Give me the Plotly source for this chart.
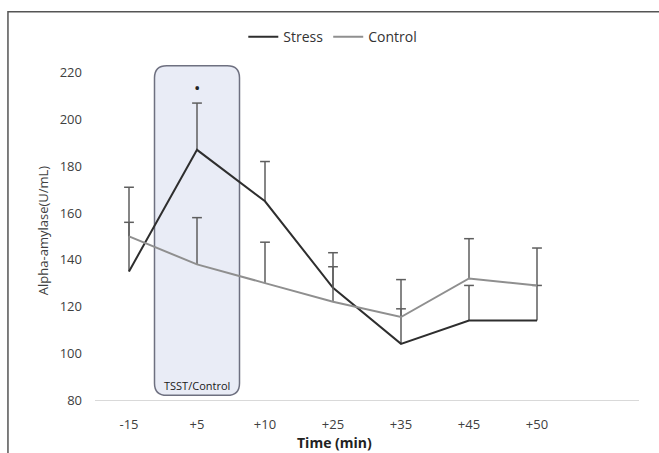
import plotly.graph_objects as go

categories = ["-15", "+5", "+10", "+25", "+35", "+45", "+50"]
stress = [135, 187, 165, 128, 104, 114, 114]
stress_err = [21, 20, 17, 15, 15, 15, 15]
control = [150, 138, 130, 122, 115.5, 132, 129]
control_err = [21, 20, 17.5, 15, 16, 17, 16]
y_ticks = [80, 100, 120, 140, 160, 180, 200, 220]

xs = list(range(len(categories)))
FONT = "Open Sans"
STRESS_C = "#2e2e2e"
CONTROL_C = "#8f8f8f"
ERR_C = "#5e5e5e"

fig = go.Figure()

# TSST/Control rounded box (below data)
x0, x1, y0, y1 = 0.375, 1.625, 82, 223
rx, ry = 0.18, 5.2
path = (f"M {x0+rx},{y0} L {x1-rx},{y0} Q {x1},{y0} {x1},{y0+ry} "
        f"L {x1},{y1-ry} Q {x1},{y1} {x1-rx},{y1} L {x0+rx},{y1} "
        f"Q {x0},{y1} {x0},{y1-ry} L {x0},{y0+ry} Q {x0},{y0} {x0+rx},{y0} Z")
fig.add_shape(type="path", path=path, xref="x", yref="y", layer="below",
              fillcolor="#e9ecf6", line=dict(color="#6e7080", width=1.5))

def add_series(vals, errs, color, name):
    fig.add_trace(go.Scatter(
        x=xs, y=vals, mode="lines", name=name,
        line=dict(color=color, width=2),
        error_y=dict(type="data", symmetric=False, array=errs,
                     arrayminus=[0] * len(errs), color=ERR_C,
                     thickness=1.5, width=0),
    ))
    fig.add_trace(go.Scatter(
        x=xs, y=[v + e for v, e in zip(vals, errs)], mode="markers",
        showlegend=False, hoverinfo="skip",
        marker=dict(symbol="line-ew", size=7,
                    line=dict(color=ERR_C, width=1.5)),
    ))

add_series(stress, stress_err, STRESS_C, "Stress")
add_series(control, control_err, CONTROL_C, "Control")

# significance marker
fig.add_annotation(x=1, y=213.5, xref="x", yref="y", text="•",
                   showarrow=False, font=dict(size=17, color="#222", family=FONT))
fig.add_annotation(x=1, y=86, xref="x", yref="y", text="TSST/Control",
                   showarrow=False, yanchor="middle",
                   font=dict(size=11, color="#1a1a1a", family=FONT))
fig.add_annotation(x=0.441, y=-0.125, xref="paper", yref="paper",
                   text="<b>Time (min)</b>", showarrow=False, yanchor="middle",
                   font=dict(size=14, color="#222", family=FONT))

# outer frame
fig.add_shape(type="rect", xref="paper", yref="paper",
              x0=-0.16, x1=1.2, y0=-0.3, y1=1.145,
              line=dict(color="#555", width=1.5), fillcolor="rgba(0,0,0,0)")

fig.update_layout(
    width=659, height=453,
    margin=dict(l=95, r=20, t=61, b=53, autoexpand=False),
    paper_bgcolor="white", plot_bgcolor="white",
    font=dict(family=FONT, size=13, color="#404040"),
    showlegend=True,
    legend=dict(orientation="h", xref="container", yref="container",
                x=0.505, xanchor="center", y=0.918,
                yanchor="middle", font=dict(size=14, color="#333"),
                itemwidth=30, bgcolor="rgba(0,0,0,0)"),
    xaxis=dict(range=[-0.5, 7.5], tickvals=xs, ticktext=categories,
               showgrid=False, zeroline=False, showline=True,
               linecolor="#d9d9d9", linewidth=1, ticks="",
               ticklabelstandoff=12, tickfont=dict(size=13, color="#404040")),
    yaxis=dict(range=[80, 225], tickvals=y_ticks, showgrid=False,
               zeroline=False, showline=False, ticks="",
               ticklabelstandoff=12, tickfont=dict(size=13, color="#404040"),
               title=dict(text="Alpha-amylase(U/mL)", standoff=8,
                          font=dict(size=13, color="#404040"))),
)

fig.write_html("out.html", config={"displayModeBar": False},
               post_script="document.body.style.margin='0';")
